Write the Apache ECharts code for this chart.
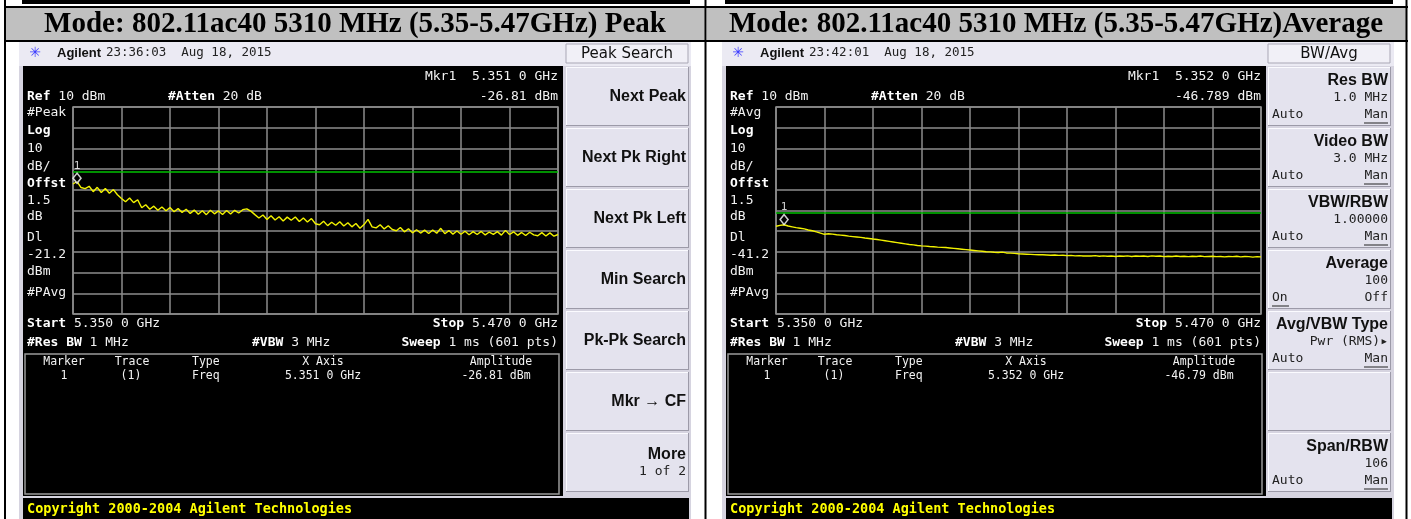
<!DOCTYPE html>
<html>
<head>
<meta charset="utf-8">
<script src="https://cdn.jsdelivr.net/npm/echarts@6/dist/echarts.min.js"></script>
<style>
html, body { margin: 0; padding: 0; background: #fff; }
#chart { width: 1411px; height: 519px; }
</style>
</head>
<body>
<div id="chart"></div>
<script>
// sweep: 5.350 - 5.470 GHz, values read every 1 MHz off the two screenshots
const sweepStartMHz = 5350;
const sweepStopMHz = 5470;
const sweepStepMHz = 1;

// left screen, peak detector
const peakTrace = [
  -27.2, -26.0, -28.9, -29.4, -28.3, -30.9, -28.8, -31.3, -29.4, -31.7,
  -29.9, -32.4, -34.2, -35.8, -34.0, -36.2, -34.8, -38.7, -37.2, -39.4,
  -37.9, -39.9, -38.3, -40.1, -38.6, -40.6, -39.1, -40.9, -39.4, -41.4,
  -39.8, -41.8, -40.1, -42.0, -39.9, -41.6, -40.2, -41.9, -40.0, -41.7,
  -39.9, -41.2, -39.6, -39.2, -40.3, -42.0, -43.6, -42.2, -44.3, -42.5,
  -44.6, -43.0, -45.1, -43.2, -44.7, -43.1, -45.3, -43.6, -45.6, -43.9,
  -46.4, -46.9, -45.2, -47.3, -45.7, -47.1, -45.4, -47.5, -45.9, -47.9,
  -46.3, -48.6, -46.8, -44.3, -47.9, -48.4, -46.9, -48.9, -47.4, -49.2,
  -49.8, -48.2, -50.3, -48.8, -50.8, -49.3, -50.9, -49.5, -51.1, -49.4,
  -51.0, -48.6, -51.2, -49.7, -51.4, -49.9, -51.5, -50.0, -51.7, -50.2,
  -51.6, -50.1, -51.8, -50.4, -51.5, -50.2, -51.9, -49.6, -51.6, -50.3,
  -52.0, -50.6, -52.1, -50.5, -51.8, -52.2, -50.7, -52.3, -50.8, -52.4,
  -51.6
];

// right screen, RMS average
const avgTrace = [
  -47.6, -47.2, -46.9, -47.5, -47.9, -48.3, -48.6, -48.9, -49.4, -49.8,
  -50.3, -50.9, -51.5, -51.2, -51.4, -51.7, -51.9, -52.1, -52.4, -52.6,
  -52.8, -53.0, -53.3, -53.5, -53.8, -54.0, -54.3, -54.6, -54.9, -55.2,
  -55.5, -55.8, -56.1, -56.4, -56.6, -56.9, -57.1, -57.2, -57.4, -57.5,
  -57.7, -57.8, -57.9, -58.1, -58.3, -58.5, -58.7, -58.9, -59.1, -59.3,
  -59.5, -59.7, -59.9, -60.0, -60.2, -60.3, -60.1, -60.5, -60.6, -60.7,
  -60.9, -61.0, -61.1, -61.2, -61.3, -61.4, -61.4, -61.5, -61.6, -61.5,
  -61.7, -61.6, -61.8, -61.7, -61.9, -61.8, -62.0, -61.9, -62.0, -61.8,
  -62.1, -61.9, -62.1, -62.0, -62.2, -62.0, -62.1, -61.9, -62.2, -62.0,
  -62.1, -62.0, -62.2, -61.9, -62.1, -62.0, -62.3, -62.1, -62.2, -62.0,
  -62.2, -62.1, -62.3, -62.1, -62.2, -62.0, -62.3, -62.2, -62.1, -62.3,
  -62.2, -62.4, -62.2, -62.3, -62.1, -62.4, -62.2, -62.3, -62.5, -62.3,
  -62.4
];

const refLevel = 10;
const bottomLevel = -90;
const displayLine = [-21.2, -41.2];
const markerFreq = [5351.0, 5352.0];
const markerAmp = [-26.81, -46.789];

const titles = [
  'Mode: 802.11ac40 5310 MHz (5.35-5.47GHz) Peak',
  'Mode: 802.11ac40 5310 MHz (5.35-5.47GHz)Average'
];
const clockText = ['23:36:03  Aug 18, 2015', '23:42:01  Aug 18, 2015'];
const menuTitle = ['Peak Search', 'BW/Avg'];
const detectorText = ['#Peak', '#Avg'];
const dlText = ['-21.2', '-41.2'];
const mkrFreqText = ['5.351 0 GHz', '5.352 0 GHz'];
const mkrAmpText = ['-26.81 dBm', '-46.789 dBm'];
const tableAmpText = ['-26.81 dBm', '-46.79 dBm'];

const peakKeys = ['Next Peak', 'Next Pk Right', 'Next Pk Left', 'Min Search', 'Pk-Pk Search', 'Mkr \u2192 CF', 'More'];
const bwKeys = [
  ['Res BW', '1.0 MHz', 'Auto', 'Man'],
  ['Video BW', '3.0 MHz', 'Auto', 'Man'],
  ['VBW/RBW', '1.00000', 'Auto', 'Man'],
  ['Average', '100', 'On', 'Off'],
  ['Avg/VBW Type', 'Pwr (RMS)\u25B8', 'Auto', 'Man'],
  null,
  ['Span/RBW', '106', 'Auto', 'Man']
];

const MONO = '"DejaVu Sans Mono", monospace';
const SANS = '"Liberation Sans", Arial, sans-serif';
const GRID = '#8c8c8c';

function toPoints(trace) {
  return trace.map((v, i) => [sweepStartMHz + i * sweepStepMHz, v]);
}

function rect(x, y, w, h, fill, stroke, lw, z) {
  return {
    type: 'rect', silent: true, z: z == null ? -5 : z,
    shape: { x: x, y: y, width: w, height: h },
    style: { fill: fill || 'none', stroke: stroke || 'none', lineWidth: lw || 1 }
  };
}
function line(x1, y1, x2, y2, color, lw, z) {
  return {
    type: 'line', silent: true, z: z == null ? -4 : z,
    shape: { x1: x1, y1: y1, x2: x2, y2: y2 },
    style: { stroke: color, lineWidth: lw || 1 }
  };
}
function txt(x, y, s, o) {
  o = o || {};
  const style = {
    text: s, fill: o.fill || '#f2f2f2',
    fontFamily: o.family || MONO, fontSize: o.size || 13,
    fontWeight: o.weight || 'normal',
    align: o.align || 'left', verticalAlign: 'middle'
  };
  if (o.rich) style.rich = o.rich;
  return { type: 'text', x: x, y: y, z: 20, silent: true, style: style };
}
function boldRich(size, fill) {
  return { b: { fontFamily: MONO, fontSize: size || 13, fontWeight: 'bold', fill: fill || '#ffffff' } };
}

function button(x, y) {
  return [
    rect(x, y, 123, 59, '#e4e3ee', null, 1, -3),
    line(x, y + 0.5, x + 123, y + 0.5, '#fbfbff', 1, -2),
    line(x + 0.5, y, x + 0.5, y + 59, '#fbfbff', 1, -2),
    line(x, y + 58.5, x + 123, y + 58.5, '#9c9aa8', 1, -2),
    line(x + 122.5, y, x + 122.5, y + 59, '#9c9aa8', 1, -2)
  ];
}

const graphics = [];

// page table and header band
graphics.push(rect(6, 8, 699, 33, '#c0c0c0'));
graphics.push(rect(707, 8, 699, 33, '#c0c0c0'));
graphics.push(line(4, 7, 1408, 7, '#000', 2, -1));
graphics.push(line(4, 41, 1408, 41, '#000', 2, -1));
graphics.push(line(5, 0, 5, 519, '#000', 2, -1));
graphics.push(line(705.5, 0, 705.5, 519, '#000', 2, -1));
graphics.push(line(1406.5, 0, 1406.5, 519, '#000', 2, -1));
graphics.push(txt(355, 25, titles[0], { family: '"Liberation Serif", "Times New Roman", serif', size: 29, weight: 'bold', fill: '#000', align: 'center' }));
graphics.push(txt(1056, 25, titles[1], { family: '"Liberation Serif", "Times New Roman", serif', size: 29, weight: 'bold', fill: '#000', align: 'center' }));

[0, 703].forEach((ox, p) => {
  // bottom of the screenshot above
  graphics.push(rect(22 + ox, 0, 668, 4, '#000'));

  // instrument screen
  graphics.push(rect(19 + ox, 42, 672, 477, '#d6d4e0'));
  graphics.push(rect(19 + ox, 42, 672, 24, '#ebeaf3'));
  graphics.push(rect(23 + ox, 66, 540, 430, '#000'));
  graphics.push(rect(23 + ox, 498, 666, 21, '#000'));
  graphics.push(rect(25 + ox, 354, 534, 140, 'none', '#9a9a9a', 1.5, -2));

  // title bar
  graphics.push(txt(35 + ox, 53, '\u2733', { family: '"DejaVu Sans", sans-serif', size: 14, fill: '#3a3aff', align: 'center' }));
  graphics.push(txt(57 + ox, 53, 'Agilent', { family: SANS, size: 13, weight: 'bold', fill: '#111' }));
  graphics.push(txt(106 + ox, 53, clockText[p], { size: 12.5, fill: '#222' }));

  // menu title
  const mx = 566 + ox - (p ? 1 : 0);
  graphics.push(rect(mx, 44, 122, 19, '#f1f0f7', '#a9a7b5', 1, -2));
  graphics.push(txt(mx + 61, 54, menuTitle[p], { family: '"DejaVu Sans", sans-serif', size: 15, fill: '#111', align: 'center' }));

  // soft keys
  for (let i = 0; i < 7; i++) {
    const by = 67 + 61 * i;
    button(mx, by).forEach(g => graphics.push(g));
    const rx = mx + 120;
    if (p === 0) {
      if (i < 6) {
        graphics.push(txt(rx, by + 30, peakKeys[i], { family: SANS, size: 16, weight: 'bold', fill: '#111', align: 'right' }));
      } else {
        graphics.push(txt(rx, by + 22, peakKeys[i], { family: SANS, size: 16, weight: 'bold', fill: '#111', align: 'right' }));
        graphics.push(txt(rx, by + 39, '1 of 2', { size: 13, fill: '#222', align: 'right' }));
      }
    } else if (bwKeys[i]) {
      const k = bwKeys[i];
      graphics.push(txt(rx, by + 14, k[0], { family: SANS, size: 16, weight: 'bold', fill: '#111', align: 'right' }));
      graphics.push(txt(rx, by + 31, k[1], { size: 13, fill: '#222', align: 'right' }));
      graphics.push(txt(mx + 4, by + 48, k[2], { size: 13, fill: '#222' }));
      graphics.push(txt(rx, by + 48, k[3], { size: 13, fill: '#222', align: 'right' }));
      if (k[3] === 'Man') graphics.push(line(rx - 24, by + 56, rx, by + 56, '#222', 1, 20));
      if (k[2] === 'On') graphics.push(line(mx + 4, by + 56, mx + 21, by + 56, '#222', 1, 20));
    }
  }

  // annotations on the display
  const L = 27 + ox, R = 558 + ox;
  graphics.push(txt(R, 77, 'Mkr1  ' + mkrFreqText[p], { align: 'right' }));
  graphics.push(txt(R, 97, mkrAmpText[p], { align: 'right' }));
  graphics.push(txt(L, 97, '{b|Ref} 10 dBm', { rich: boldRich() }));
  graphics.push(txt(168 + ox, 97, '{b|#Atten} 20 dB', { rich: boldRich() }));
  const side = [
    [113, detectorText[p], false], [131, 'Log', true], [149, '10', false], [167, 'dB/', false],
    [184, 'Offst', true], [201, '1.5', false], [217, 'dB', false], [238, 'Dl', false],
    [255, dlText[p], false], [272, 'dBm', false], [293, '#PAvg', false]
  ];
  side.forEach(s => graphics.push(txt(L, s[0], s[1], { weight: s[2] ? 'bold' : 'normal', fill: s[2] ? '#fff' : '#f2f2f2' })));
  graphics.push(txt(L, 324, '{b|Start} 5.350 0 GHz', { rich: boldRich() }));
  graphics.push(txt(R, 324, '{b|Stop} 5.470 0 GHz', { rich: boldRich(), align: 'right' }));
  graphics.push(txt(L, 343, '{b|#Res BW} 1 MHz', { rich: boldRich() }));
  graphics.push(txt(252 + ox, 343, '{b|#VBW} 3 MHz', { rich: boldRich() }));
  graphics.push(txt(R, 343, '{b|Sweep} 1 ms (601 pts)', { rich: boldRich(), align: 'right' }));

  // marker table
  const hs = 11.5;
  graphics.push(txt(64 + ox, 362, 'Marker', { size: hs, align: 'center' }));
  graphics.push(txt(132 + ox, 362, 'Trace', { size: hs, align: 'center' }));
  graphics.push(txt(192 + ox, 362, 'Type', { size: hs }));
  graphics.push(txt(323 + ox, 362, 'X Axis', { size: hs, align: 'center' }));
  graphics.push(txt(501 + ox, 362, 'Amplitude', { size: hs, align: 'center' }));
  graphics.push(txt(64 + ox, 376, '1', { size: hs, align: 'center' }));
  graphics.push(txt(131 + ox, 376, '(1)', { size: hs, align: 'center' }));
  graphics.push(txt(192 + ox, 376, 'Freq', { size: hs }));
  graphics.push(txt(323 + ox, 376, mkrFreqText[p], { size: hs, align: 'center' }));
  graphics.push(txt(496 + ox, 376, tableAmpText[p], { size: hs, align: 'center' }));

  // copyright bar
  graphics.push(txt(27 + ox, 509, 'Copyright 2000-2004 Agilent Technologies', { size: 13.5, weight: 'bold', fill: '#ffff00' }));
});

const grids = [0, 703].map(ox => ({
  left: 73 + ox, top: 107, width: 485, height: 207,
  show: true, borderColor: GRID, borderWidth: 1.5, backgroundColor: 'transparent'
}));

const xAxes = [0, 1].map(i => ({
  type: 'value', gridIndex: i, min: sweepStartMHz, max: sweepStopMHz, interval: 12,
  axisLine: { show: false }, axisTick: { show: false }, axisLabel: { show: false },
  splitLine: { show: true, lineStyle: { color: GRID, width: 1.5 } }
}));
const yAxes = [0, 1].map(i => ({
  type: 'value', gridIndex: i, min: bottomLevel, max: refLevel, interval: 10,
  axisLine: { show: false }, axisTick: { show: false }, axisLabel: { show: false },
  splitLine: { show: true, lineStyle: { color: GRID, width: 1.5 } }
}));

const series = [];
[peakTrace, avgTrace].forEach((trace, i) => {
  series.push({
    type: 'line', xAxisIndex: i, yAxisIndex: i, data: toPoints(trace),
    showSymbol: false, silent: true, animation: false, z: 5,
    lineStyle: { color: '#f2f200', width: 1.4 },
    markLine: {
      silent: true, symbol: 'none', animation: false,
      label: { show: false },
      lineStyle: { color: '#00c000', width: 1.5, type: 'solid' },
      data: [{ yAxis: displayLine[i] }]
    }
  });
  series.push({
    type: 'scatter', xAxisIndex: i, yAxisIndex: i,
    data: [[markerFreq[i], markerAmp[i]]],
    symbol: 'diamond', symbolSize: [8, 10], symbolOffset: [0, -5],
    silent: true, animation: false, z: 6,
    itemStyle: { color: '#000', borderColor: '#fff', borderWidth: 1.5 },
    label: { show: true, formatter: '1', position: 'top', distance: 1, color: '#fff', fontFamily: MONO, fontSize: 11 }
  });
});

const chart = echarts.init(document.getElementById('chart'));
chart.setOption({
  backgroundColor: '#fff',
  animation: false,
  grid: grids,
  xAxis: xAxes,
  yAxis: yAxes,
  series: series,
  graphic: { elements: graphics }
});
</script>
</body>
</html>
